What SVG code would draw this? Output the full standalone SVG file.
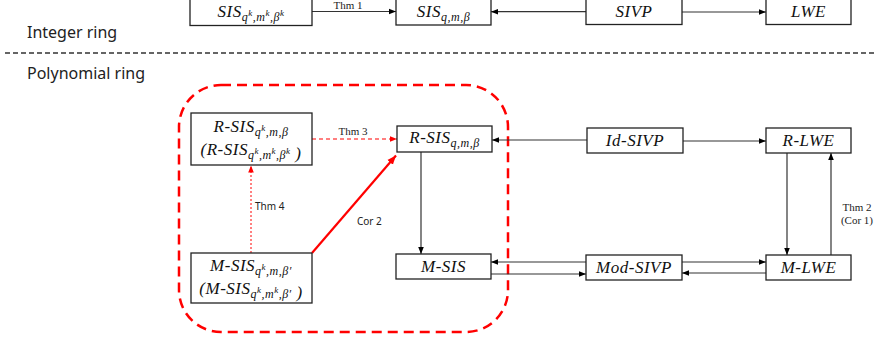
<svg xmlns="http://www.w3.org/2000/svg" width="877" height="341" viewBox="0 0 877 341">
<style>
.bx{fill:#fff;stroke:#222;stroke-width:1.3}
.m{font-family:"Liberation Serif","Times New Roman",serif;font-style:italic;font-size:17px;fill:#111;text-anchor:middle;letter-spacing:0.5px}
.s{font-size:12px}
.p{font-size:9px}
.cn{fill:none;stroke:#333;stroke-width:1.2}
.lb{font-family:"Liberation Serif","Times New Roman",serif;font-size:11px;fill:#222}
.ls{font-family:"Noto Sans","Liberation Sans",sans-serif;font-size:10px;fill:#222}
.hd{font-family:"Noto Sans","Liberation Sans",sans-serif;font-size:16px;fill:#222}
</style>
<defs>
<marker id="ah" viewBox="0 0 10 10" refX="10" refY="5" markerWidth="7" markerHeight="7" markerUnits="userSpaceOnUse" orient="auto"><path d="M0,1 L10,5 L0,9 z" fill="#000"/></marker>
<marker id="ar" viewBox="0 0 10 10" refX="10" refY="5" markerWidth="7" markerHeight="7" markerUnits="userSpaceOnUse" orient="auto"><path d="M0,1 L10,5 L0,9 z" fill="#f00"/></marker>
<marker id="arb" viewBox="0 0 10 10" refX="10" refY="5" markerWidth="9" markerHeight="9" markerUnits="userSpaceOnUse" orient="auto"><path d="M0,1 L10,5 L0,9 z" fill="#f00"/></marker>
</defs>

<text class="hd" x="27" y="38">Integer ring</text>
<line x1="5" y1="53" x2="877" y2="53" stroke="#333" stroke-width="1.3" stroke-dasharray="5 3"/>
<text class="hd" x="27" y="79">Polynomial ring</text>

<rect id="region" x="179" y="85" width="329" height="247" rx="42" ry="42" fill="none" stroke="#f00" stroke-width="2.5" stroke-dasharray="10 6"/>

<g id="connectors">
<line class="cn" x1="312" y1="11.5" x2="396" y2="11.5" marker-end="url(#ah)"/>
<line class="cn" x1="586" y1="11.7" x2="491" y2="11.7" marker-end="url(#ah)"/>
<line class="cn" x1="682" y1="12" x2="766" y2="12" marker-end="url(#ah)"/>
<line x1="312" y1="139" x2="397" y2="139" stroke="#f00" stroke-width="1.2" stroke-dasharray="4 3" marker-end="url(#ar)"/>
<line x1="251" y1="253" x2="251" y2="165.5" stroke="#f00" stroke-width="1" stroke-dasharray="2 2" marker-end="url(#ar)"/>
<line x1="312" y1="253" x2="396" y2="155.5" stroke="#f00" stroke-width="2.2" marker-end="url(#arb)"/>
<line class="cn" x1="587" y1="140" x2="492" y2="140" marker-end="url(#ah)"/>
<line class="cn" x1="683" y1="141" x2="766" y2="141" marker-end="url(#ah)"/>
<line class="cn" x1="421" y1="152" x2="421" y2="254" marker-end="url(#ah)"/>
<line class="cn" x1="586" y1="262" x2="491" y2="262" marker-end="url(#ah)"/>
<line class="cn" x1="491" y1="274" x2="586" y2="274" marker-end="url(#ah)"/>
<line class="cn" x1="682" y1="262" x2="766" y2="262" marker-end="url(#ah)"/>
<line class="cn" x1="766" y1="273" x2="682" y2="273" marker-end="url(#ah)"/>
<line class="cn" x1="787" y1="153" x2="787" y2="255" marker-end="url(#ah)"/>
<line class="cn" x1="831" y1="255" x2="831" y2="153" marker-end="url(#ah)"/>
<text class="lb" x="348" y="9" text-anchor="middle">Thm 1</text>
<text class="lb" x="353" y="135" text-anchor="middle">Thm 3</text>
<text class="ls" x="255" y="210">Thm 4</text>
<text class="ls" x="357" y="225">Cor 2</text>
<text class="lb" x="857" y="211" text-anchor="middle">Thm 2</text>
<text class="lb" x="857" y="224" text-anchor="middle">(Cor 1)</text>
</g>

<g id="sis-k">
<rect class="bx" x="190" y="-5" width="122" height="30.5"/>
<text class="m" x="251" y="17">SIS<tspan class="s" dy="4">q</tspan><tspan class="p" dy="-5">k</tspan><tspan class="s" dy="5">,m</tspan><tspan class="p" dy="-5">k</tspan><tspan class="s" dy="5">,β</tspan><tspan class="p" dy="-5">k</tspan></text>
</g>
<g id="sis">
<rect class="bx" x="396" y="-5" width="95" height="30"/>
<text class="m" x="443.5" y="17">SIS<tspan class="s" dy="4">q,m,β</tspan></text>
</g>
<g id="sivp">
<rect class="bx" x="586" y="-5" width="96" height="29.5"/>
<text class="m" x="634" y="17">SIVP</text>
</g>
<g id="lwe">
<rect class="bx" x="766" y="-5" width="85" height="29.5"/>
<text class="m" x="808.5" y="17">LWE</text>
</g>

<g id="rsis-k">
<rect class="bx" x="191" y="113" width="121" height="52"/>
<text class="m" x="251" y="132">R-SIS<tspan class="s" dy="4">q</tspan><tspan class="p" dy="-5">k</tspan><tspan class="s" dy="5">,m,β</tspan></text>
<text class="m" x="251" y="155">(R-SIS<tspan class="s" dy="4">q</tspan><tspan class="p" dy="-5">k</tspan><tspan class="s" dy="5">,m</tspan><tspan class="p" dy="-5">k</tspan><tspan class="s" dy="5">,β</tspan><tspan class="p" dy="-5">k</tspan><tspan dy="5"> )</tspan></text>
</g>
<g id="rsis">
<rect class="bx" x="397" y="126" width="95" height="26"/>
<text class="m" x="444.5" y="143">R-SIS<tspan class="s" dy="4">q,m,β</tspan></text>
</g>
<g id="idsivp">
<rect class="bx" x="587" y="128" width="96" height="25"/>
<text class="m" x="635" y="146">Id-SIVP</text>
</g>
<g id="rlwe">
<rect class="bx" x="766" y="128" width="85" height="25"/>
<text class="m" x="808.5" y="146">R-LWE</text>
</g>

<g id="msis-k">
<rect class="bx" x="191" y="253" width="121" height="50"/>
<text class="m" x="251" y="271">M-SIS<tspan class="s" dy="4">q</tspan><tspan class="p" dy="-5">k</tspan><tspan class="s" dy="5">,m,β′</tspan></text>
<text class="m" x="251" y="294">(M-SIS<tspan class="s" dy="4">q</tspan><tspan class="p" dy="-5">k</tspan><tspan class="s" dy="5">,m</tspan><tspan class="p" dy="-5">k</tspan><tspan class="s" dy="5">,β′</tspan><tspan dy="0"> )</tspan></text>
</g>
<g id="msis">
<rect class="bx" x="396" y="254" width="95" height="25"/>
<text class="m" x="443.5" y="272">M-SIS</text>
</g>
<g id="modsivp">
<rect class="bx" x="586" y="255" width="96" height="25"/>
<text class="m" x="634" y="273">Mod-SIVP</text>
</g>
<g id="mlwe">
<rect class="bx" x="766" y="255" width="85" height="25"/>
<text class="m" x="808.5" y="273">M-LWE</text>
</g>
</svg>
